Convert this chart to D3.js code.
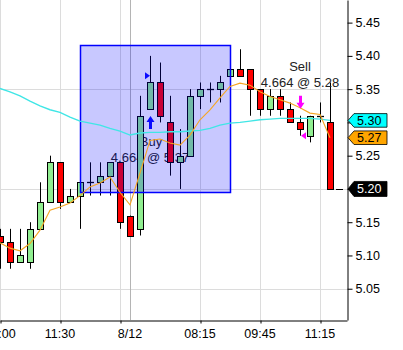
<!DOCTYPE html>
<html><head><meta charset="utf-8">
<script src="https://cdn.jsdelivr.net/npm/d3@7"></script>
<style>html,body{margin:0;padding:0;background:#fff;overflow:hidden}</style>
</head><body><svg id="c" width="403" height="350"></svg>
<script>
// ---- data (15-minute bars, index 0..33) ----
const opens  = [5.13,5.12,5.09,5.09,5.14,5.18,5.24,5.18,5.19,5.21,5.21,5.22,5.24,5.16,5.14,5.32,5.36,5.30,5.24,5.25,5.34,5.35,5.35,5.37,5.38,5.38,5.35,5.32,5.34,5.32,5.30,5.28,5.31,5.30];
const highs  = [5.14,5.14,5.14,5.15,5.21,5.25,5.24,5.20,5.21,5.24,5.24,5.24,5.24,5.16,5.34,5.40,5.39,5.34,5.29,5.35,5.36,5.36,5.37,5.38,5.41,5.38,5.35,5.35,5.35,5.33,5.31,5.31,5.33,5.36];
const lows   = [5.08,5.08,5.09,5.08,5.14,5.18,5.17,5.18,5.14,5.19,5.19,5.19,5.14,5.13,5.13,5.32,5.30,5.22,5.20,5.25,5.32,5.33,5.33,5.37,5.37,5.31,5.31,5.31,5.31,5.30,5.28,5.27,5.30,5.20];
const closes = [5.12,5.09,5.10,5.14,5.18,5.24,5.18,5.19,5.21,5.21,5.22,5.24,5.15,5.13,5.31,5.36,5.31,5.24,5.25,5.34,5.35,5.35,5.36,5.38,5.37,5.35,5.32,5.34,5.32,5.30,5.29,5.31,5.31,5.20];
const slowMA = [5.351,5.346,5.340,5.332,5.325,5.319,5.315,5.308,5.302,5.299,5.296,5.291,5.287,5.281,5.284,5.285,5.285,5.286,5.286,5.287,5.288,5.291,5.296,5.299,5.300,5.302,5.304,5.305,5.306,5.306,5.306,5.306,5.305,5.303];
const fastMA = [5.119,5.111,5.107,5.118,5.138,5.168,5.173,5.179,5.190,5.203,5.209,5.218,5.195,5.176,5.224,5.273,5.275,5.269,5.266,5.281,5.304,5.319,5.337,5.354,5.359,5.356,5.346,5.339,5.334,5.329,5.322,5.314,5.312,5.277];

const yTicks = [5.05,5.10,5.15,5.20,5.25,5.30,5.35,5.40,5.45];
const yGrid = [5.05,5.20,5.35];
const xTickIdx = [0,6,12,20,26,32];
const xLabelIdx = [0,6,13,20,26,32];
const xLabels = ["10:00","11:30","8/12","08:15","09:45","11:15"];
const daySplitIdx = [13];

const boxRange = [8,23];          // bar indices
const boxPrices = [5.196,5.416];  // low, high

const tradeIdx = [15,30];
const tradeKind = ["Buy","Sell"];
const tradeText = ["4.664 @ 5.37","4.664 @ 5.28"];
const tradePrice = [5.37,5.28];

const tagValues = [5.303,5.277,5.20];
const tagTexts = ["5.30","5.27","5.20"];

// ---- drawing ----
const svg = d3.select("#c");
const PR = 347, PB = 320;
const x = d3.scaleLinear().domain([0,34.7]).range([0,PR]);
const y = d3.scaleLinear().domain([5.003,5.484]).range([PB,0]);
const font = "'Liberation Sans', Arial, sans-serif";
const px = v => Math.round(x(v)) + 0.5;

svg.append("defs").append("clipPath").attr("id","clip")
  .append("rect").attr("x",0).attr("y",0).attr("width",PR).attr("height",PB);
const plot = svg.append("g").attr("clip-path","url(#clip)");

// grid
plot.selectAll(".hg").data(yGrid).enter().append("line")
  .attr("x1",0).attr("x2",PR).attr("y1",d=>Math.round(y(d))+0.5).attr("y2",d=>Math.round(y(d))+0.5)
  .attr("stroke","#dcdcdc").attr("stroke-width",1);
plot.selectAll(".vg").data(xTickIdx).enter().append("line")
  .attr("x1",d=>px(d)).attr("x2",d=>px(d)).attr("y1",0).attr("y2",PB)
  .attr("stroke","#dcdcdc").attr("stroke-width",1);
plot.selectAll(".vs").data(daySplitIdx).enter().append("line")
  .attr("x1",d=>px(d)).attr("x2",d=>px(d)).attr("y1",0).attr("y2",PB)
  .attr("stroke","#b4b4b4").attr("stroke-width",1);

// annotation text inside the box sits beneath candles and the translucent box
const annUnder = plot.append("g").attr("font-family",font).attr("font-size","13px").attr("fill","#222").attr("text-anchor","middle");

// candles
const bars = d3.range(opens.length).map(i=>({i,o:opens[i],h:highs[i],l:lows[i],c:closes[i]}));
const cg = plot.append("g");
cg.selectAll(".wick").data(bars).enter().append("line")
  .attr("x1",d=>px(d.i)).attr("x2",d=>px(d.i))
  .attr("y1",d=>y(d.h)).attr("y2",d=>y(d.l))
  .attr("stroke","#000").attr("stroke-width",1);
bars.forEach(d=>{
  const top = y(Math.max(d.o,d.c)), bot = y(Math.min(d.o,d.c));
  const cx = Math.round(x(d.i));
  if (bot - top < 1.5) {
    cg.append("line").attr("x1",cx-3).attr("x2",cx+4).attr("y1",Math.round(top)+0.5).attr("y2",Math.round(top)+0.5)
      .attr("stroke","#000").attr("stroke-width",1.3);
  } else {
    cg.append("rect").attr("x",cx-2.5).attr("width",6)
      .attr("y",Math.round(top)+0.5).attr("height",Math.round(bot)-Math.round(top))
      .attr("fill", d.c >= d.o ? "#90ee90" : "#ff0000")
      .attr("stroke","#000").attr("stroke-width",1);
  }
});

// box
plot.append("rect")
  .attr("x",px(boxRange[0])).attr("y",Math.round(y(boxPrices[1]))+0.5)
  .attr("width",px(boxRange[1])-px(boxRange[0]))
  .attr("height",Math.round(y(boxPrices[0]))-Math.round(y(boxPrices[1])))
  .attr("fill","rgba(0,0,255,0.215)").attr("stroke","#0000ff").attr("stroke-width",1.5);

// moving averages
const line = d3.line().x((d,i)=>x(i)).y(d=>y(d));
plot.append("path").attr("d",line(slowMA)).attr("fill","none").attr("stroke","#40e6e6").attr("stroke-width",1.4);
plot.append("path").attr("d",line(fastMA)).attr("fill","none").attr("stroke","#f5a623").attr("stroke-width",1.1);

const annOver = svg.append("g").attr("font-family",font).attr("font-size","13px").attr("fill","#222").attr("text-anchor","middle");

// trade markers
tradeIdx.forEach((k,j)=>{
  const cx = Math.round(x(k));
  const isBuy = tradeKind[j]==="Buy";
  const col = isBuy ? "#0a0aff" : "#ff00ff";
  const py = y(tradePrice[j]);
  if (isBuy) {
    const tip = y(lows[k]) + 7;
    plot.append("path").attr("fill",col)
      .attr("d",`M${cx-3.5},${tip+6} L${cx+0.5},${tip} L${cx+4.5},${tip+6} L${cx+2},${tip+6} L${cx+2},${tip+13} L${cx-1},${tip+13} L${cx-1},${tip+6} Z`);
    plot.append("path").attr("fill",col)
      .attr("d",`M${cx-5},${py-3.5} L${cx},${py} L${cx-5},${py+3.5} Z`);
    annUnder.append("text").attr("x",cx+1).attr("y",tip+30).text(tradeKind[j]);
    annUnder.append("text").attr("x",cx).attr("y",tip+46).text(tradeText[j]);
  } else {
    const tip = y(highs[k]) - 7;
    plot.append("path").attr("fill",col)
      .attr("d",`M${cx-3.5},${tip-6} L${cx+0.5},${tip} L${cx+4.5},${tip-6} L${cx+2},${tip-6} L${cx+2},${tip-13} L${cx-1},${tip-13} L${cx-1},${tip-6} Z`);
    plot.append("path").attr("fill",col)
      .attr("d",`M${cx+6},${py-3.5} L${cx+1},${py} L${cx+6},${py+3.5} Z`);
    annOver.append("text").attr("x",cx).attr("y",tip-38).text(tradeKind[j]);
    annOver.append("text").attr("x",cx).attr("y",tip-22).text(tradeText[j]);
  }
});

// last price dash
const last = closes[closes.length-1];
svg.append("line").attr("x1",336).attr("x2",343).attr("y1",Math.round(y(last))+0.5).attr("y2",Math.round(y(last))+0.5)
  .attr("stroke","#000").attr("stroke-width",1);

// axes (tick labels hidden where a price tag covers them)
const covered = v => tagValues.some(t => Math.abs(y(t)-y(v)) < 8);
const ya = svg.append("g").attr("transform",`translate(${PR+0.5},0)`)
  .call(d3.axisRight(y).tickValues(yTicks).tickSize(5).tickPadding(3).tickSizeOuter(0)
    .tickFormat(v => covered(v) ? "" : d3.format(".2f")(v)));
ya.selectAll("text").attr("font-family",font).attr("font-size","12.5px").attr("fill","#000");
ya.select(".domain").attr("stroke","#000");
const xa = svg.append("g").attr("transform",`translate(0,${PB+0.5})`)
  .call(d3.axisBottom(x).tickValues(xTickIdx).tickSize(3).tickSizeOuter(0).tickFormat(""));
xa.select(".domain").attr("stroke","#000");
xa.selectAll(".tick line").attr("transform","translate(0.5,0)");
svg.selectAll(".xl").data(xLabelIdx).enter().append("text")
  .attr("x",d=>x(d)).attr("y",338).attr("text-anchor","middle")
  .attr("font-family",font).attr("font-size","12.5px").attr("fill","#000")
  .text((d,i)=>xLabels[i]);

// price tags
const tagFill = ["#00ffff","#ffa500","#000000"];
const tagInk = ["#000","#000","#fff"];
tagValues.forEach((v,i)=>{
  const c = y(v);
  const h = i===2 ? 7.5 : 6.8;
  svg.append("path")
    .attr("d",`M348,${c} L354,${c-h} L387,${c-h} L387,${c+h} L354,${c+h} Z`)
    .attr("fill",tagFill[i]).attr("stroke","#000").attr("stroke-width",0.8);
  svg.append("text").attr("x",357).attr("y",c).attr("dy","0.36em")
    .attr("font-family",font).attr("font-size","12.5px").attr("fill",tagInk[i]).text(tagTexts[i]);
});
</script></body></html>
